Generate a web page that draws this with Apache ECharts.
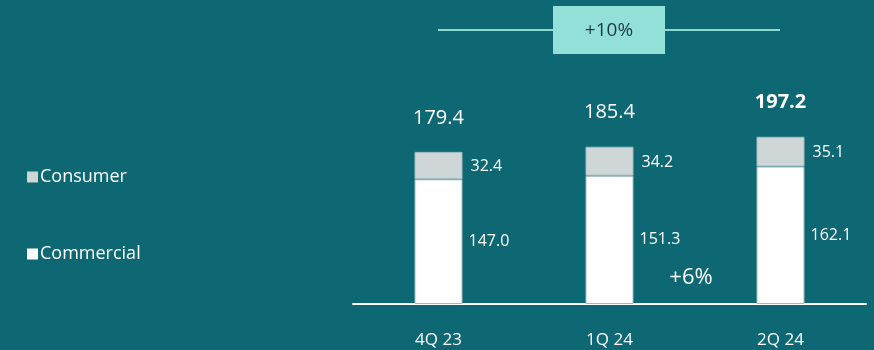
<!DOCTYPE html>
<html>
<head>
<meta charset="utf-8">
<script src="https://cdn.jsdelivr.net/npm/echarts@6/dist/echarts.min.js"></script>
<style>
  html, body { margin: 0; padding: 0; background: #0e6874; }
  #chart { width: 874px; height: 350px; }
</style>
</head>
<body>
<div id="chart"></div>
<script>
  const quarters = ['4Q 23', '1Q 24', '2Q 24'];
  const commercial = [147.0, 151.3, 162.1];
  const consumer = [32.4, 34.2, 35.1];
  const totals = [179.4, 185.4, 197.2];

  const font = 'Open Sans';
  const chart = echarts.init(document.getElementById('chart'));

  chart.setOption({
    backgroundColor: '#0e6874',
    textStyle: { fontFamily: font },
    legend: {
      orient: 'vertical',
      left: 22,
      top: 163,
      itemGap: 59,
      itemWidth: 11,
      itemHeight: 11,
      icon: 'rect',
      data: ['Consumer', 'Commercial'],
      itemStyle: { borderWidth: 0 },
      textStyle: { color: '#ffffff', fontSize: 18, fontFamily: font, padding: [0, 0, 0, -3] }
    },
    grid: { left: 353, width: 513, top: 92, bottom: 46 },
    xAxis: {
      type: 'category',
      data: quarters,
      axisLine: { lineStyle: { color: '#ffffff', width: 2 } },
      axisTick: { show: false },
      axisLabel: { color: '#ffffff', fontSize: 17, margin: 28, fontFamily: font }
    },
    yAxis: { type: 'value', min: 0, max: 250, show: false },
    series: [
      {
        name: 'Commercial',
        type: 'bar',
        stack: 'rev',
        barWidth: 48,
        data: commercial,
        itemStyle: { color: '#ffffff', borderColor: '#9fbcc0', borderWidth: 1 },
        label: {
          show: true, position: 'right', distance: 6,
          color: '#ffffff', fontSize: 16, fontFamily: font,
          formatter: p => p.value.toFixed(1)
        }
      },
      {
        name: 'Consumer',
        type: 'bar',
        stack: 'rev',
        barWidth: 48,
        data: consumer,
        itemStyle: { color: '#cfd6d7', borderColor: '#9fbcc0', borderWidth: 1 },
        label: {
          show: true, position: 'right', distance: 8, offset: [0, 1],
          color: '#ffffff', fontSize: 16, fontFamily: font,
          formatter: p => p.value.toFixed(1)
        }
      },
      {
        name: 'Total',
        type: 'scatter',
        symbolSize: 0,
        itemStyle: { opacity: 1 },
        data: totals.map((v, i) => ({
          value: v,
          label: i === totals.length - 1 ? { fontWeight: 'bold' } : {}
        })),
        label: {
          show: true, position: 'top', distance: 24,
          color: '#ffffff', fontSize: 20, fontFamily: font,
          formatter: p => p.value.toFixed(1)
        },
        silent: true
      }
    ],
    graphic: [
      { type: 'line', shape: { x1: 438, y1: 30, x2: 780, y2: 30 }, style: { stroke: '#8fdbd3', lineWidth: 2 } },
      { type: 'rect', shape: { x: 553, y: 6, width: 112, height: 48 }, style: { fill: '#93e0d8' } },
      {
        type: 'text', x: 609, y: 31,
        style: { text: '+10%', fill: '#1d3c42', font: '19px "Open Sans"', textAlign: 'center', textVerticalAlign: 'middle' }
      },
      {
        type: 'text', x: 691, y: 278,
        style: { text: '+6%', fill: '#ffffff', font: '22px "Open Sans"', textAlign: 'center', textVerticalAlign: 'middle' }
      }
    ]
  });
</script>
</body>
</html>
